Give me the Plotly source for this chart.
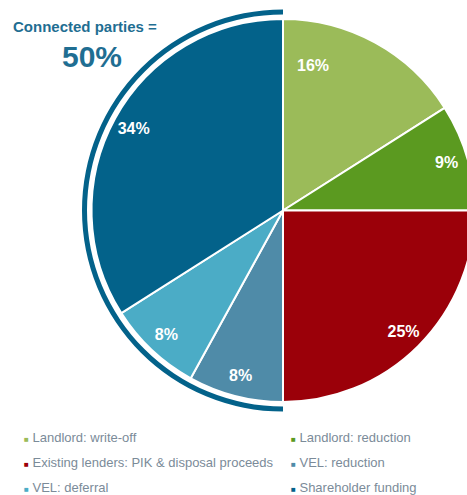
import plotly.graph_objects as go

labels = ["Landlord: write-off", "Landlord: reduction",
          "Existing lenders: PIK & disposal proceeds", "VEL: reduction",
          "VEL: deferral", "Shareholder funding"]
values = [16, 9, 25, 8, 8, 34]
colors = ["#9BBB59", "#5B9A20", "#9B0009", "#4F8BA8", "#4BACC6", "#03628A"]
connected = ["VEL: reduction", "VEL: deferral", "Shareholder funding"]

W, H = 490, 495
cx, cy, R = 283, 210.5, 191.5
Ra_out, Ra_in = 201, 196

conn_total = sum(v for l, v in zip(labels, values) if l in connected)
other_total = sum(values) - conn_total

pie_domain = dict(x=[(cx - R) / W, (cx + R) / W], y=[(H - cy - R) / H, (H - cy + R) / H])
lab_font = dict(family="Liberation Sans, Arial", size=16, color="white", weight="bold")

# the first label sits nearer the top in the original; it is placed separately
ring_text = [""] + [f"{v}%" for v in values[1:]]

fig = go.Figure()
fig.add_trace(go.Pie(
    labels=labels, values=values, sort=False, direction="clockwise", rotation=0,
    marker=dict(colors=colors, line=dict(color="white", width=2)),
    textinfo="none", domain=pie_domain, showlegend=False, hoverinfo="label+percent",
))
fig.add_trace(go.Pie(
    labels=labels, values=values, sort=False, direction="clockwise", rotation=0, hole=0.78,
    marker=dict(colors=["rgba(0,0,0,0)"] * len(values), line=dict(width=0)),
    text=ring_text, textinfo="text", textposition="inside", insidetextorientation="horizontal",
    textfont=lab_font, domain=pie_domain, showlegend=False, hoverinfo="skip",
))
fig.add_trace(go.Pie(
    labels=["Other", "Connected parties"], values=[other_total, conn_total],
    sort=False, direction="clockwise", rotation=0, hole=Ra_in / Ra_out,
    marker=dict(colors=["rgba(0,0,0,0)", "#03628A"], line=dict(width=0)),
    textinfo="none", hoverinfo="skip", showlegend=False,
    domain=dict(x=[(cx - Ra_out) / W, (cx + Ra_out) / W],
                y=[(H - cy - Ra_out) / H, (H - cy + Ra_out) / H]),
))

ann = []
ann.append(dict(text=f"<b>{values[0]}%</b>", x=313 / W, y=1 - 66 / H, xref="paper", yref="paper",
                xanchor="center", yanchor="middle", showarrow=False, font=lab_font))
ann.append(dict(text="<b>Connected parties =</b>", x=85 / W, y=1 - 26 / H, xref="paper", yref="paper",
                xanchor="center", yanchor="middle", showarrow=False,
                font=dict(family="Liberation Sans, Arial", size=15, color="#1F6E92")))
ann.append(dict(text=f"<b>{conn_total}%</b>", x=92 / W, y=1 - 57 / H, xref="paper", yref="paper",
                xanchor="center", yanchor="middle", showarrow=False,
                font=dict(family="Liberation Sans, Arial", size=30, color="#1F6E92")))

leg_x = [22, 289]
leg_y = [437, 462, 487]
for i, (lab, col) in enumerate(zip(labels, colors)):
    c, r = i % 2, i // 2
    ann.append(dict(
        text=f"<span style='font-size:8px;color:{col}'>■</span> {lab}",
        x=leg_x[c] / W, y=1 - leg_y[r] / H, xref="paper", yref="paper",
        xanchor="left", yanchor="middle", showarrow=False,
        font=dict(family="Liberation Sans, Arial", size=13, color="#7B8B99")))

fig.update_layout(width=W, height=H, margin=dict(l=0, r=0, t=0, b=0),
                  paper_bgcolor="white", plot_bgcolor="white", annotations=ann)
fig.write_html("out.html")
